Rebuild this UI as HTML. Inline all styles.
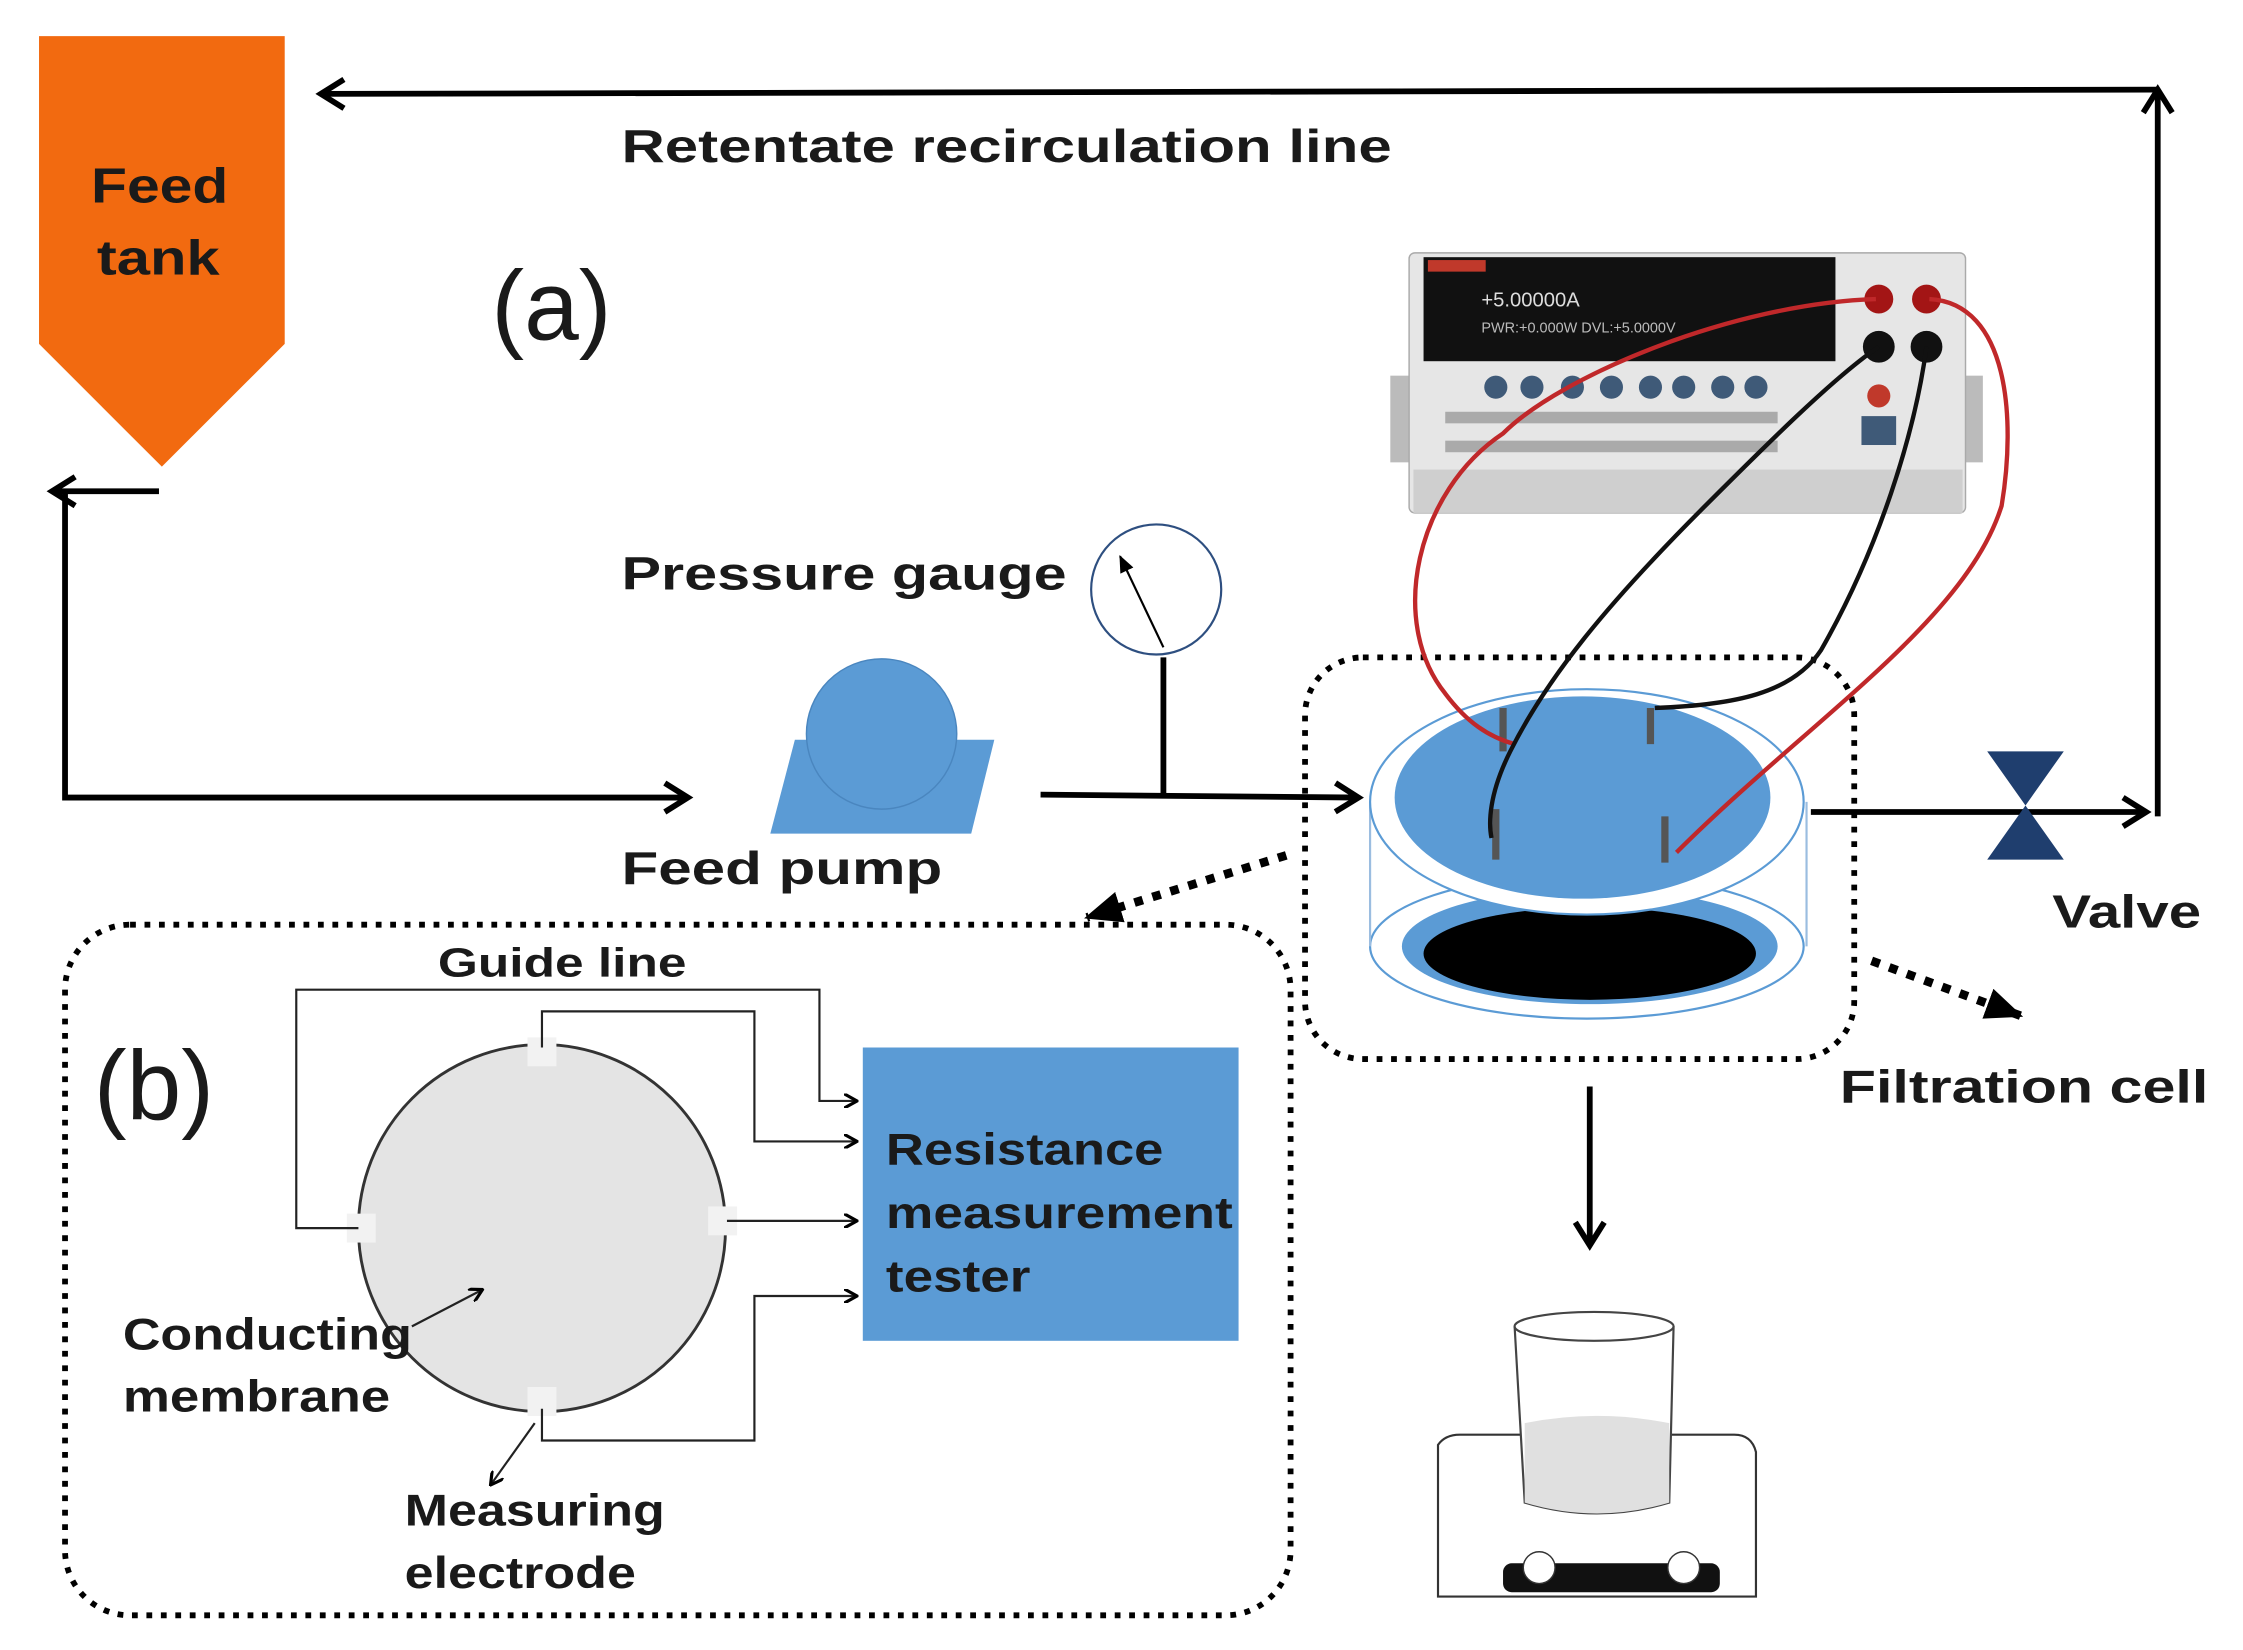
<!DOCTYPE html>
<html><head><meta charset="utf-8"><style>
html,body{margin:0;padding:0;background:#fff}
svg{display:block}
text{font-family:"Liberation Sans",Arial,sans-serif;font-weight:bold;fill:#1a1a1a}
</style></head><body>
<svg width="2243" height="1650" viewBox="0 0 1552 1142" preserveAspectRatio="none">
<defs>
<marker id="ah" markerWidth="10" markerHeight="10" refX="8" refY="5" orient="auto" markerUnits="userSpaceOnUse" viewBox="0 0 10 10"><path d="M0,0 L9,5 L0,10" fill="none" stroke="#000" stroke-width="2.2"/></marker>
<marker id="ahs" markerWidth="24" markerHeight="24" refX="20" refY="12" orient="auto" markerUnits="userSpaceOnUse"><path d="M4,2 L20,12 L4,22" fill="none" stroke="#000" stroke-width="4"/></marker>
<marker id="tri" markerWidth="26" markerHeight="22" refX="24" refY="11" orient="auto" markerUnits="userSpaceOnUse"><path d="M0,0 L26,11 L0,22 Z" fill="#000"/></marker>
<marker id="sm" markerWidth="12" markerHeight="10" refX="11" refY="5" orient="auto" markerUnits="userSpaceOnUse"><path d="M0,0 L12,5 L0,10 Z" fill="#000"/></marker>
</defs>
<polygon points="27,25 197,25 197,238 112,323 27,238" fill="#f26a10"/>
<text x="63" y="140" font-size="34" textLength="95" lengthAdjust="spacingAndGlyphs">Feed</text>
<text x="67" y="190" font-size="34" textLength="85" lengthAdjust="spacingAndGlyphs">tank</text>
<polyline points="1493,565 1493,62" fill="none" stroke="#000" stroke-width="4" marker-end="url(#ahs)"/>
<line x1="1493" y1="62" x2="222" y2="65" stroke="#000" stroke-width="4" marker-end="url(#ahs)"/>
<text x="430" y="112" font-size="32" textLength="533" lengthAdjust="spacingAndGlyphs">Retentate recirculation line</text>
<text x="340" y="235" font-size="68" style="font-weight:normal">(a)</text>
<line x1="110" y1="340" x2="36" y2="340" stroke="#000" stroke-width="4" marker-end="url(#ahs)"/>
<polyline points="45,340 45,552 476,552" fill="none" stroke="#000" stroke-width="4" marker-end="url(#ahs)"/>
<polygon points="550,512 688,512 672,577 533,577" fill="#5b9bd5"/>
<circle cx="610" cy="508" r="52" fill="#5b9bd5" stroke="#4a86bf" stroke-width="1"/>
<text x="430" y="612" font-size="32" textLength="222" lengthAdjust="spacingAndGlyphs">Feed pump</text>
<circle cx="800" cy="408" r="45" fill="#fff" stroke="#2e4f80" stroke-width="1.5"/>
<line x1="805" y1="448" x2="775" y2="385" stroke="#000" stroke-width="1.5" marker-end="url(#sm)"/>
<line x1="805" y1="455" x2="805" y2="552" stroke="#000" stroke-width="4"/>
<line x1="720" y1="550" x2="940" y2="552" stroke="#000" stroke-width="4" marker-end="url(#ahs)"/>
<text x="430" y="408" font-size="32" textLength="308" lengthAdjust="spacingAndGlyphs">Pressure gauge</text>
<rect x="962" y="260" width="410" height="60" fill="#bbb"/>
<rect x="975" y="175" width="385" height="180" rx="4" fill="#e6e6e6" stroke="#aaa"/>
<rect x="978" y="325" width="380" height="30" fill="#cfcfcf"/>
<rect x="985" y="178" width="285" height="72" fill="#111"/>
<rect x="988" y="180" width="40" height="8" fill="#c0392b"/>
<text x="1025" y="212" font-size="14" style="fill:#ddd;font-weight:normal">+5.00000A</text>
<text x="1025" y="230" font-size="10" style="fill:#bbb;font-weight:normal">PWR:+0.000W  DVL:+5.0000V</text>
<g fill="#3f5a78"><circle cx="1035" cy="268" r="8"/><circle cx="1060" cy="268" r="8"/><circle cx="1088" cy="268" r="8"/><circle cx="1115" cy="268" r="8"/><circle cx="1142" cy="268" r="8"/><circle cx="1165" cy="268" r="8"/><circle cx="1192" cy="268" r="8"/><circle cx="1215" cy="268" r="8"/></g>
<rect x="1000" y="285" width="230" height="8" fill="#aaa"/><rect x="1000" y="305" width="230" height="8" fill="#aaa"/>
<circle cx="1300" cy="274" r="8" fill="#c0392b"/><rect x="1288" y="288" width="24" height="20" fill="#3f5a78"/>
<circle cx="1300" cy="207" r="10" fill="#a31515"/><circle cx="1333" cy="207" r="10" fill="#a31515"/>
<circle cx="1300" cy="240" r="11" fill="#111"/><circle cx="1333" cy="240" r="11" fill="#111"/>
<rect x="903" y="455" width="380" height="278" rx="40" fill="none" stroke="#000" stroke-width="4" stroke-dasharray="4,6"/>
<ellipse cx="1098" cy="655" rx="150" ry="50" fill="#fff" stroke="#5b9bd5" stroke-width="1.5"/>
<ellipse cx="1100" cy="655" rx="130" ry="40" fill="#5b9bd5"/>
<ellipse cx="1100" cy="660" rx="115" ry="32" fill="#000"/>
<line x1="948" y1="555" x2="948" y2="655" stroke="#9bbde0" stroke-width="1.5"/>
<line x1="1250" y1="555" x2="1250" y2="655" stroke="#9bbde0" stroke-width="1.5"/>
<ellipse cx="1098" cy="555" rx="150" ry="78" fill="#fff" stroke="#5b9bd5" stroke-width="1.5"/>
<ellipse cx="1095" cy="552" rx="130" ry="70" fill="#5b9bd5"/>
<g stroke="#555" stroke-width="5"><line x1="1040" y1="490" x2="1040" y2="520"/><line x1="1142" y1="490" x2="1142" y2="515"/><line x1="1035" y1="560" x2="1035" y2="595"/><line x1="1152" y1="565" x2="1152" y2="597"/></g>
<path d="M1298,207 C1200,210 1080,260 1040,300 C980,340 960,430 1000,480 C1015,500 1030,510 1048,515" fill="none" stroke="#c0282a" stroke-width="3"/>
<path d="M1335,207 C1390,210 1395,290 1385,350 C1360,430 1250,500 1160,590" fill="none" stroke="#c0282a" stroke-width="3"/>
<path d="M1300,240 C1270,260 1220,310 1180,350 C1110,420 1070,470 1045,520 C1030,550 1030,570 1032,580" fill="none" stroke="#111" stroke-width="3"/>
<path d="M1333,240 C1325,300 1300,380 1260,450 C1240,480 1200,488 1145,490" fill="none" stroke="#111" stroke-width="3"/>
<line x1="1253" y1="562" x2="1485" y2="562" stroke="#000" stroke-width="4" marker-end="url(#ahs)"/>
<polygon points="1375,520 1428,520 1375,595 1428,595" fill="#1f3e6e"/>
<text x="1420" y="642" font-size="32" textLength="103" lengthAdjust="spacingAndGlyphs">Valve</text>
<text x="1273" y="763" font-size="32" textLength="255" lengthAdjust="spacingAndGlyphs">Filtration cell</text>
<line x1="890" y1="592" x2="752" y2="635" stroke="#000" stroke-width="6" stroke-dasharray="6,7" marker-end="url(#tri)"/>
<line x1="1295" y1="665" x2="1398" y2="703" stroke="#000" stroke-width="6" stroke-dasharray="6,7" marker-end="url(#tri)"/>
<line x1="1100" y1="752" x2="1100" y2="862" stroke="#000" stroke-width="4" marker-end="url(#ahs)"/>
<path d="M995,1030 L995,1000 Q1000,993 1010,993 L1200,993 Q1212,993 1215,1005 L1215,1105 L995,1105 Z" fill="#fff" stroke="#333" stroke-width="1.5"/>
<rect x="1040" y="1082" width="150" height="20" rx="6" fill="#111"/>
<circle cx="1065" cy="1085" r="11" fill="#fff" stroke="#333"/><circle cx="1165" cy="1085" r="11" fill="#fff" stroke="#333"/>
<path d="M1048,918 L1055,1040 Q1105,1055 1155,1040 L1158,918" fill="#fff" stroke="#444" stroke-width="1.5"/>
<path d="M1055,985 Q1105,975 1155,985 L1155,1040 Q1105,1055 1055,1040 Z" fill="#e0e0e0"/>
<ellipse cx="1103" cy="918" rx="55" ry="10" fill="#fff" stroke="#444" stroke-width="1.5"/>
<rect x="45" y="640" width="848" height="478" rx="45" fill="none" stroke="#000" stroke-width="4" stroke-dasharray="4,6"/>
<text x="65" y="775" font-size="68" style="font-weight:normal">(b)</text>
<text x="303" y="676" font-size="28" textLength="172" lengthAdjust="spacingAndGlyphs">Guide line</text>
<circle cx="375" cy="850" r="127" fill="#e4e4e4" stroke="#333" stroke-width="2"/>
<g fill="#f2f2f2"><rect x="365" y="718" width="20" height="20"/><rect x="240" y="840" width="20" height="20"/><rect x="490" y="835" width="20" height="20"/><rect x="365" y="960" width="20" height="20"/></g>
<g fill="none" stroke="#222" stroke-width="1.5">
<polyline points="248,850 205,850 205,685 567,685 567,762 592,762" marker-end="url(#ah)"/>
<polyline points="375,725 375,700 522,700 522,790 592,790" marker-end="url(#ah)"/>
<polyline points="503,845 592,845" marker-end="url(#ah)"/>
<polyline points="375,975 375,997 522,997 522,897 592,897" marker-end="url(#ah)"/>
<polyline points="285,918 333,893" marker-end="url(#ah)"/>
<polyline points="370,985 340,1027" marker-end="url(#ah)"/>
</g>
<rect x="597" y="725" width="260" height="203" fill="#5b9bd5"/>
<text x="613" y="806" font-size="31" textLength="192" lengthAdjust="spacingAndGlyphs">Resistance</text>
<text x="613" y="850" font-size="31" textLength="240" lengthAdjust="spacingAndGlyphs">measurement</text>
<text x="613" y="894" font-size="31" textLength="100" lengthAdjust="spacingAndGlyphs">tester</text>
<text x="85" y="934" font-size="31" textLength="200" lengthAdjust="spacingAndGlyphs">Conducting</text>
<text x="85" y="977" font-size="31" textLength="185" lengthAdjust="spacingAndGlyphs">membrane</text>
<text x="280" y="1056" font-size="31" textLength="180" lengthAdjust="spacingAndGlyphs">Measuring</text>
<text x="280" y="1099" font-size="31" textLength="160" lengthAdjust="spacingAndGlyphs">electrode</text>
</svg>
</body></html>
